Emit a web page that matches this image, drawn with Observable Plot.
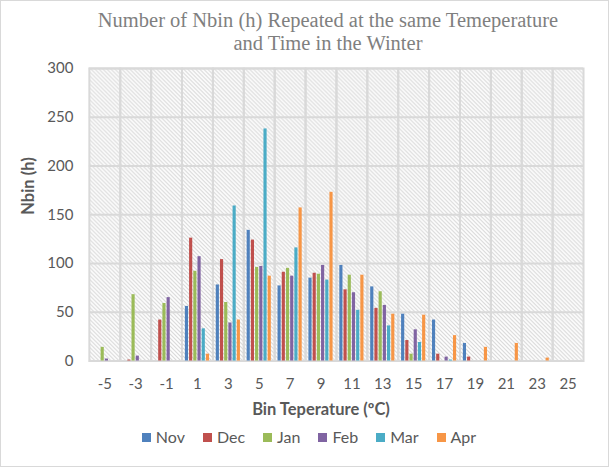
<!DOCTYPE html>
<html>
<head>
<meta charset="utf-8">
<script src="https://cdn.jsdelivr.net/npm/d3@7"></script>
<script src="https://cdn.jsdelivr.net/npm/@observablehq/plot@0.6"></script>
<style>
  body { margin: 0; background: #fff; }
  #chart { position: relative; width: 609px; height: 467px; box-sizing: border-box; border: 1px solid #d9d9d9; background: #fff; overflow: hidden; }
  #title { position: absolute; left: 27px; top: 8px; width: 600px; text-align: center; font-family: "Liberation Serif", "Times New Roman", serif; font-size: 20.5px; line-height: 23px; color: #7f7f7f; white-space: nowrap; }
  #plot { position: absolute; left: -1px; top: 57px; }
  #xtitle { position: absolute; left: 170px; top: 398px; width: 300px; text-align: center; font-family: Lato, sans-serif; font-weight: bold; font-size: 16.5px; line-height: 20px; color: #595959; }
  #legend { position: absolute; left: 108px; top: 426px; width: 400px; display: flex; justify-content: center; gap: 18px; font-family: Lato, sans-serif; font-size: 16px; line-height: 20px; color: #595959; }
  #legend .item { display: flex; align-items: center; gap: 5px; }
  #legend .sw { width: 9px; height: 9px; display: inline-block; }
</style>
</head>
<body>
<div id="chart">
  <div id="title">Number of Nbin (h) Repeated at the same Temeperature<br>and Time in the Winter</div>
  <div id="plot"></div>
  <div id="xtitle">Bin Teperature (ºC)</div>
  <div id="legend"></div>
</div>
<script>
const categories = ["-5","-3","-1","1","3","5","7","9","11","13","15","17","19","21","23","25"];
const months = ["Nov","Dec","Jan","Feb","Mar","Apr"];
const colors = ["#4F81BD","#C0504D","#9BBB59","#8064A2","#4BACC6","#F79646"];
const nov = [0,0,0,56,78,134,77,85,98,76,48,42,18,0,0,0];
const dec = [0,1,42,126,104,124,91,90,73,54,21,7,4,0,0,0];
const jan = [14,68,59,92,60,96,95,89,88,71,7,0,0,0,0,0];
const feb = [2,5,65,107,39,97,87,98,70,57,32,4,0,0,0,0];
const mar = [0,0,0,33,159,238,116,83,52,36,19,1,0,0,0,0];
const apr = [0,0,0,7,42,87,157,173,88,48,47,26,14,18,3,0];
const yTicks = [0,50,100,150,200,250,300];

const series = [nov, dec, jan, feb, mar, apr];
const rows = [];
categories.forEach((c, i) => {
  months.forEach((m, j) => rows.push({cat: c, month: m, value: series[j][i]}));
});

const svg = Plot.plot({
  width: 609,
  height: 340,
  marginTop: 10,
  marginBottom: 37,
  marginLeft: 89,
  marginRight: 25,
  style: {fontFamily: "Lato, sans-serif", fontSize: "15px", color: "#595959", background: "transparent"},
  fx: {domain: categories, padding: 0, round: false, label: null, tickSize: 0, tickPadding: 17},
  x: {domain: months, axis: null, paddingInner: 0.25, paddingOuter: 0.8, round: false},
  y: {domain: [0, 300], ticks: yTicks, label: null, tickSize: 0, tickPadding: 16},
  color: {domain: months, range: colors},
  marks: [
    Plot.frame({fill: "url(#hatch)", stroke: null}),
    Plot.gridY(yTicks, {stroke: "#d9d9d9", strokeOpacity: 1, strokeWidth: 2}),
    Plot.frame({stroke: "#d9d9d9", strokeWidth: 2}),
    Plot.barY(rows, {fx: "cat", x: "month", y: "value", fill: "month"}),
    Plot.text(["Nbin (h)"], {facet: "super", frameAnchor: "left", rotate: -90, dx: -61, fontWeight: "bold", fontSize: 16.5, fill: "#595959"})
  ]
});

const defs = d3.select(svg).insert("defs", ":first-child");
const pat = defs.append("pattern").attr("id", "hatch").attr("patternUnits", "userSpaceOnUse").attr("width", 4).attr("height", 4);
pat.append("rect").attr("width", 4).attr("height", 4).attr("fill", "#ffffff");
pat.append("path").attr("d", "M-1,-1L5,5M-1,3L1,5M3,-1L5,1").attr("stroke", "#d6d6d6").attr("stroke-width", 1.1);

document.getElementById("plot").appendChild(svg);

const legend = d3.select("#legend");
months.forEach((m, i) => {
  const it = legend.append("div").attr("class", "item");
  it.append("span").attr("class", "sw").style("background", colors[i]);
  it.append("span").text(m);
});
</script>
</body>
</html>
